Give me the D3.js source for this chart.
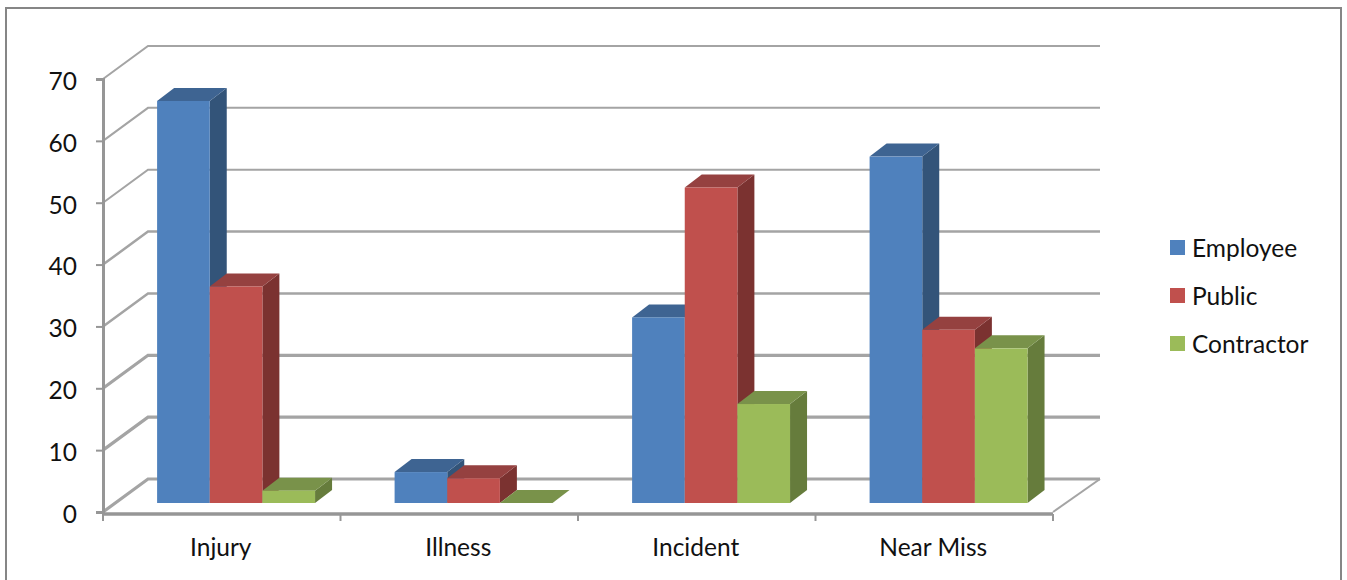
<!DOCTYPE html>
<html>
<head>
<meta charset="utf-8">
<style>
html,body{margin:0;padding:0;background:#fff}
svg{display:block}
text{font-family:"Lato","Open Sans",sans-serif;fill:#111}
</style>
<script src="https://cdn.jsdelivr.net/npm/d3@7"></script>
</head>
<body>
<svg id="chart" width="1347" height="580"></svg>
<script>
// Incident counts by category, one array per reporting group
const categories = ["Injury", "Illness", "Incident", "Near Miss"];
const seriesNames = ["Employee", "Public", "Contractor"];
const employee = [65, 5, 30, 56];
const publicCounts = [35, 4, 51, 28];
const contractor = [2, 0, 16, 25];
const yTicks = [0, 10, 20, 30, 40, 50, 60, 70];

const seriesValues = [employee, publicCounts, contractor];
const frontColors = ["#4f81bd", "#c0504d", "#9bbb59"];
const topColors = ["#3e6492", "#954140", "#79924a"];
const sideColors = ["#335479", "#7b3230", "#667c3c"];

const svg = d3.select("#chart");

// Oblique projection: depth shifts right and up
const depthX = 45, depthY = -33;
const barDepthX = 17, barDepthY = -13;
const barBase = 503;
const fontSize = "24.5px";

const y = d3.scaleLinear().domain([0, 70]).range([512, 79]);
// Bars sit off-centre in their slot because the depth extrudes to the right
const x = d3.scaleBand().domain(categories).range([103, 1053]).paddingInner(0.335).paddingOuter(0.1675).align(0.68);
const labelX = d3.scaleBand().domain(categories).range([103, 1053]);
const inner = d3.scaleBand().domain(d3.range(3)).range([0, x.bandwidth()]);
const barHeight = v => y(0) - y(v);

// Outer frame
svg.append("rect").attr("x", 6).attr("y", 8).attr("width", 1335).attr("height", 590)
  .attr("fill", "#fff").attr("stroke", "#868686").attr("stroke-width", 2);

// Back wall gridlines and their slanted returns on the side wall
const grid = svg.append("g").attr("fill", "none").attr("stroke", "#a4a4a4");
yTicks.forEach(t => {
  const sw = t >= 50 ? 2 : t >= 30 ? 2.5 : 3.2;
  grid.append("path")
    .attr("stroke-width", sw)
    .attr("d", d3.line()([[103, y(t)], [103 + depthX, y(t) + depthY], [1100, y(t) + depthY]]));
});
// Floor edge on the right
grid.append("path").attr("stroke-width", 2)
  .attr("d", d3.line()([[1100, y(0) + depthY], [1053, y(0)]]));

// Bars: left-to-right, so each front face overlaps its neighbour's side
categories.forEach((c, i) => {
  const g = svg.append("g");
  seriesValues.forEach((vals, s) => {
    const v = vals[i];
    const x0 = x(c) + inner(s), x1 = x0 + inner.bandwidth();
    const top = barBase - barHeight(v);
    g.append("path").attr("fill", sideColors[s]).attr("d", d3.line()([
      [x1, top], [x1 + barDepthX, top + barDepthY],
      [x1 + barDepthX, barBase + barDepthY], [x1, barBase]
    ]) + "Z");
    g.append("path").attr("fill", topColors[s]).attr("d", d3.line()([
      [x0, top], [x0 + barDepthX, top + barDepthY],
      [x1 + barDepthX, top + barDepthY], [x1, top]
    ]) + "Z");
    g.append("rect").attr("x", x0).attr("y", top)
      .attr("width", inner.bandwidth()).attr("height", barHeight(v))
      .attr("fill", frontColors[s]);
  });
});

// Value axis
const axisColor = "#969696";
const axisY = d3.axisLeft(y).tickValues(yTicks).tickSize(7).tickPadding(19);
const gy = svg.append("g").attr("transform", "translate(103,0)").call(axisY);
gy.select(".domain").attr("stroke", axisColor).attr("stroke-width", 3);
gy.selectAll(".tick line").attr("stroke", axisColor).attr("stroke-width", 2);
gy.selectAll("text").style("font-size", fontSize).attr("fill", "#111").attr("dy", "0.42em");

// Category axis along the front of the floor
const tickScale = d3.scalePoint().domain(d3.range(5)).range([103, 1053]);
const gx = svg.append("g").attr("stroke", axisColor);
gx.append("line").attr("x1", 103).attr("x2", 1053).attr("y1", 514).attr("y2", 514).attr("stroke-width", 3.5);
gx.selectAll(".edge").data(d3.range(5)).join("line").attr("class", "edge")
  .attr("x1", d => tickScale(d)).attr("x2", d => tickScale(d))
  .attr("y1", 514).attr("y2", 521).attr("stroke-width", 2);

svg.selectAll(".cat").data(categories).join("text").attr("class", "cat")
  .attr("x", d => labelX(d) + labelX.bandwidth() / 2 - 1).attr("y", 556)
  .attr("text-anchor", "middle").style("font-size", fontSize).text(d => d);

// Legend
const legendY = d3.scalePoint().domain(seriesNames).range([248, 344]);
const legend = svg.selectAll(".key").data(seriesNames).join("g").attr("class", "key")
  .attr("transform", d => `translate(1170,${legendY(d)})`);
legend.append("rect").attr("y", -8).attr("width", 15).attr("height", 15)
  .attr("fill", (d, i) => frontColors[i]);
legend.append("text").attr("x", 22).attr("y", 9).style("font-size", fontSize).text(d => d);
</script>
</body>
</html>
